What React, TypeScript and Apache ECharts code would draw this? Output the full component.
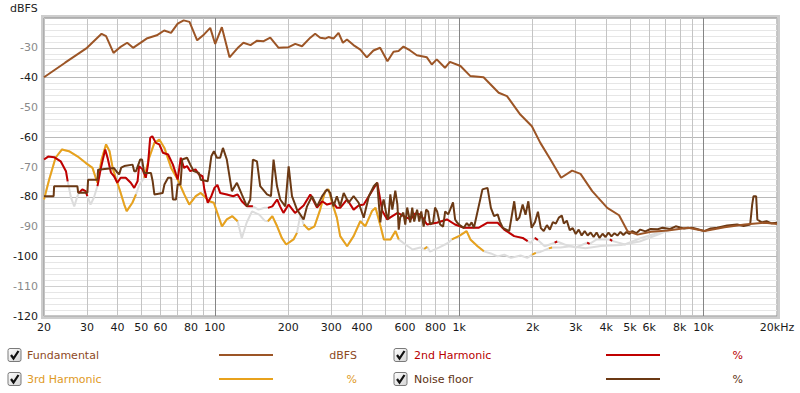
import React, { useEffect, useRef } from "react";
import * as echarts from "echarts";

// ---- axes ----
const xGridValues = [20, 30, 40, 50, 60, 70, 80, 90, 100, 200, 300, 400, 500, 600, 700, 800, 900, 1000, 2000, 3000, 4000, 5000, 6000, 7000, 8000, 9000, 10000, 20000];
const xLabelValues = [20, 30, 40, 50, 60, 80, 100, 200, 300, 400, 600, 800, 1000, 2000, 3000, 4000, 5000, 6000, 8000, 10000, 20000];
const yMin = -120;
const yMax = -20;

// ---- series: [Hz, dBFS] ----
const fundamental = [
  [20, -39.9], [24.4, -35], [30, -30.0], [34.4, -25.3], [35.9, -26.1], [38.5, -31.7], [41, -29.8], [43.8, -28.3], [46.3, -30],
  [52.6, -26.9], [57.9, -25.8], [62.1, -24.2], [66.2, -25], [70.5, -21.9], [74.6, -20.8], [78.8, -21.3], [84.7, -27.5],
  [90.4, -25.5], [95.8, -23.3], [100.4, -28.7], [106.9, -23.1], [114.9, -33.2], [125, -29.8], [131, -28.3], [140, -29.1],
  [149, -27.6], [158.5, -27.8], [168.7, -26.6], [182.5, -30], [200.5, -29.8], [213.5, -28.7], [227.5, -29.5], [246, -26.6],
  [257.5, -25.3], [270, -26.6], [283, -26.9], [292, -26.4], [306, -26.9], [321, -25], [334.5, -28.3], [347.5, -27.2],
  [369.5, -29.1], [394, -30.6], [419, -33.2], [446, -30.9], [475, -30], [509, -34.5], [539, -31.3], [565, -31.1], [592, -29.6],
  [630, -30.9], [671, -32.5], [738, -33.2], [773, -35.6], [810, -33.9], [875, -36.7], [917, -34.7], [1013, -36.1],
  [1112, -39.5], [1259, -39.9], [1452, -45.1], [1570, -46.2], [1780, -52.4], [1985, -56.3], [2150, -61.9], [2365, -67.5],
  [2615, -73.6], [2900, -71.2], [3140, -72.3], [3505, -78.1], [4040, -83.7], [4515, -86.2], [4885, -91.5], [5370, -92.7],
  [6100, -91.7], [7150, -91.3], [8650, -90.4], [10100, -91.5], [12200, -90.2], [14750, -89.3], [17800, -88.7], [20000, -89.1],
];

const noiseFloor = [
  [20, -79.8], [21.9, -79.8], [22, -76.5], [27.4, -76.5], [27.6, -78.6], [30.1, -78.6], [30.3, -74.3], [33.1, -74.3],
  [33.3, -70.9], [38.6, -70.3], [39.6, -71.5], [40.6, -72.5], [41.4, -70.2], [42.6, -69.7], [46.1, -69.2], [46.8, -71.4],
  [47.6, -71.4], [49.5, -67.5], [50.4, -67.5], [51.4, -72], [54.8, -72], [55.7, -74.8], [56.6, -79.2], [61.2, -78.7],
  [62.2, -75.9], [64.4, -73.6], [66.3, -73.6], [67.4, -80.9], [69.4, -80.9], [70.5, -75.9], [72.4, -75.9], [73.6, -67.5],
  [77, -66.9], [79.4, -69.2], [82, -71.4], [86.1, -72], [87.6, -74.3], [93.5, -74.8], [95.2, -70.8], [96.8, -66.4],
  [99.2, -64.7], [102, -66.9], [105.2, -66.9], [108, -63.6], [112, -67.5], [117.5, -78.1], [123.2, -75.3], [129, -79.2],
  [135.4, -83.2], [139.7, -80.9], [143.2, -67.5], [148.8, -68.1], [153.4, -76.4], [163.6, -79.2], [169.8, -79.8],
  [174, -67.5], [179.7, -76.4], [185.3, -80.9], [194.3, -83.2], [200.6, -69.8], [207, -79.8], [217, -84.3], [231, -87.6],
  [238.5, -83.2], [250, -79.8], [262, -83.2], [275, -79.8], [288, -77.5], [297, -78.7], [306, -83.2], [316, -79.8],
  [326, -83.2], [337, -78.7], [353, -82], [370, -79.8], [388, -82], [407, -87], [427, -79.8], [448, -76.4], [462, -75.3],
  [476, -88.6], [485, -82.6], [491, -80.9], [504, -85.9], [513, -87.6], [523, -79.2], [533, -84.3], [548, -77.9], [559, -82.6],
  [566, -91.0], [574, -86.9], [591, -85.3], [602, -89.3], [613, -83.6], [631, -88.6], [643, -83.6], [655, -88.3], [673, -84.3],
  [687, -88.3], [700, -84.9], [716, -90.0], [733, -84.3], [747, -84.9], [761, -89.3], [783, -88.6], [797, -83.6], [813, -84.9],
  [836, -89.3], [860, -90.0], [877, -84.9], [902, -85.9], [919, -84.3], [944, -81.9], [963, -87.6], [981, -88.6], [1009, -89.6],
  [1046, -90.4], [1075, -88.8], [1100, -89.8], [1125, -88.6], [1150, -90.4], [1246, -77.5], [1307, -77], [1349, -83.7],
  [1390, -86.5], [1438, -85.9], [1470, -88.4], [1509, -90.4], [1603, -91.5], [1681, -81.5], [1720, -88], [1763, -87],
  [1820, -82.6], [1870, -86], [1920, -81.5], [1980, -90.4], [2044, -88.5], [2102, -85], [2160, -90.5], [2220, -91.5],
  [2287, -89.5], [2352, -91], [2419, -88.5], [2488, -89], [2559, -87], [2632, -86.3], [2683, -89], [2759, -88], [2837, -91.2],
  [2918, -90.5], [3001, -92.5], [3087, -91], [3174, -93], [3265, -91.5], [3358, -93], [3453, -92], [3552, -93.5], [3653, -92],
  [3757, -93.8], [3864, -92.4], [3974, -93.5], [4087, -92], [4203, -93.3], [4323, -92.2], [4446, -93], [4573, -91.8],
  [4703, -92.8], [4837, -91.8], [4975, -92.5], [5116, -91.5], [5312, -92.2], [5515, -91], [5787, -91.6], [6072, -90.8],
  [6500, -90.9], [6800, -90.4], [7300, -90.8], [7700, -89.9], [8300, -90.6], [9000, -90.4], [10070, -91.5], [10700, -90.6],
  [11380, -90.4], [12500, -89.6], [13730, -89.3], [14600, -89.8], [15530, -89.3], [15830, -82.6], [16030, -79.8],
  [16430, -79.8], [16620, -87.6], [17300, -88.6], [18120, -88.2], [19000, -88.9], [20000, -88.7],
];

// [Hz, dBFS, shown in colour (1) or below the noise floor (0)]
const harmonic2 = [
  [20, -67.5, 1], [20.8, -66.5, 1], [22, -66.7, 1], [23.4, -68.1, 1], [24.6, -71.4, 1], [25, -74.8, 1], [25.8, -80.3, 0],
  [26.6, -83.2, 0], [27.4, -79.8, 0], [27.8, -78.7, 1], [28.7, -77.5, 1], [29.6, -78.1, 1], [30.1, -79.8, 1], [31, -82.6, 0],
  [32, -80.3, 0], [33.1, -76.4, 1], [34.2, -70.3, 1], [35.6, -64.1, 1], [36.4, -66.9, 1], [37.6, -71.9, 1], [38.7, -73.1, 1],
  [39.9, -75.3, 1], [41.2, -73.6, 1], [43.2, -73.6, 1], [45.3, -75.3, 1], [46.8, -77, 1], [48.3, -74.8, 1], [49, -69.7, 1],
  [50.6, -70.8, 1], [52.2, -73.6, 1], [53.3, -69.2, 1], [54.4, -60.2, 1], [55.5, -59.7, 1], [57.4, -61.9, 1], [59.3, -62.4, 1],
  [61.3, -65.2, 1], [64.4, -65.8, 1], [67.4, -69.2, 1], [70.5, -74.2, 1], [72.6, -66.9, 1], [74.8, -70.3, 1], [77, -69.7, 1],
  [79.4, -71.4, 1], [83.4, -70.8, 1], [86.1, -72.5, 1], [89.1, -73.1, 1], [90.6, -77.5, 1], [93.6, -82, 1], [96.8, -79.8, 1],
  [99.7, -77, 1], [102.5, -76, 1], [105.2, -78.7, 1], [112, -79.2, 1], [119, -79.8, 1], [124, -79.2, 1], [129, -81.5, 1],
  [135.4, -83.2, 1], [143.2, -83.2, 1], [151, -84.3, 0], [160, -83.7, 0], [165, -83.7, 1], [172, -83.2, 1], [180, -80.9, 1],
  [185, -83.2, 1], [191, -85.4, 1], [200.6, -82.6, 1], [213, -85.4, 1], [231, -82.9, 1], [246, -79.2, 1], [262, -83.6, 1],
  [275, -81.5, 1], [288, -82.6, 1], [306, -82, 1], [316, -83.7, 1], [326, -83.7, 1], [348, -80.9, 1], [370, -84.3, 1],
  [388, -82.9, 1], [407, -82.6, 1], [427, -79.8, 1], [448, -77, 1], [462, -75.3, 1], [485, -84.8, 1], [508, -87.6, 1],
  [533, -86.5, 1], [560, -85.4, 1], [594, -86.5, 1], [632, -87.6, 1], [662, -85.6, 1], [694, -85.9, 1], [739, -89.3, 1],
  [810, -88.7, 1], [892, -87.6, 1], [962, -89.3, 1], [1046, -90.4, 1], [1112, -90.4, 1], [1200, -90.4, 1], [1307, -88.7, 1],
  [1438, -88.7, 1], [1530, -91, 1], [1680, -93.2, 1], [1820, -93.8, 1], [1908, -94.9, 1], [1960, -95.5, 0], [2040, -93.8, 1],
  [2100, -94.5, 1], [2240, -96.6, 0], [2460, -95.4, 1], [2520, -95, 1], [2700, -96, 0], [3010, -97, 0], [3340, -95.4, 1],
  [3420, -95.8, 1], [3660, -94.3, 0], [4140, -94.3, 1], [4230, -94.8, 1], [4770, -96, 0], [5480, -94, 0], [6300, -92.5, 0],
  [7000, -91, 0],
];

const harmonic3 = [
  [20, -80.9, 1], [21, -74.2, 1], [22.3, -66.9, 1], [23.7, -64.1, 1], [25.3, -64.7, 1], [27.4, -66.4, 1], [29.6, -68.6, 1],
  [31.6, -70.3, 1], [32.4, -73.1, 1], [33.1, -75.3, 1], [34.4, -67.5, 1], [35.9, -62.4, 1], [37.1, -64.7, 1], [38.2, -70.3, 1],
  [39.3, -73.6, 1], [41.2, -78.7, 1], [42.6, -82.6, 1], [43.6, -84.8, 1], [46, -82, 1], [47.6, -79.2, 1], [49, -76.2, 0],
  [51.4, -73.6, 1], [53.9, -66.9, 1], [56.6, -61.9, 1], [59.3, -60.8, 1], [62.2, -63.6, 1], [66.3, -70.3, 1], [70.5, -74.2, 1],
  [75, -79.2, 1], [78.6, -82.6, 1], [83.6, -79.8, 1], [87.6, -78.7, 1], [90.5, -79.8, 1], [95, -81.5, 1], [99.1, -82, 1],
  [107, -89.9, 1], [112, -87.6, 1], [118, -86.5, 1], [124, -88.2, 1], [129, -93.9, 0], [135, -88.7, 0], [142, -84.9, 0],
  [152, -86, 0], [160, -88, 0], [165, -88.2, 1], [172, -86.5, 1], [180, -89.9, 1], [188, -93.8, 1], [196, -96, 1], [210, -94.3, 1],
  [217, -92.1, 1], [224, -86, 0], [231, -89.3, 1], [242, -91, 1], [256, -89.9, 1], [270, -84.3, 1], [283, -78.1, 1],
  [292, -77.5, 1], [302, -82, 1], [316, -87, 1], [326, -93.2, 1], [348, -96.6, 1], [370, -93.2, 1], [394, -88.2, 1],
  [413, -89.9, 1], [440, -84.8, 1], [455, -83.7, 1], [477, -89.9, 1], [492, -94.3, 1], [524, -94.3, 1], [549, -91.5, 1],
  [566, -94.3, 1], [603, -96, 0], [645, -97.7, 0], [694, -97, 0], [720, -97.5, 1], [740, -96.8, 1], [760, -98.4, 0],
  [830, -97, 0], [900, -95.5, 0], [934, -94.3, 1], [998, -93.2, 1], [1073, -91.5, 1], [1112, -94.3, 1], [1190, -96.6, 1],
  [1263, -98.3, 1], [1349, -99, 0], [1438, -100, 0], [1530, -99.4, 0], [1630, -100.5, 0], [1785, -99.7, 0], [1900, -100.5, 0],
  [1990, -99.4, 1], [2060, -98.8, 1], [2150, -98.5, 0], [2330, -97.3, 1], [2400, -97, 1], [2600, -97, 0], [2860, -96.6, 0],
  [3290, -97.3, 0], [3800, -96.5, 0], [4600, -96.2, 0], [5480, -95, 0], [6600, -92.5, 0], [7500, -90.6, 0],
];

// ---- legend ----
const legendNames = ["Fundamental", "2nd Harmonic", "3rd Harmonic", "Noise floor"];
const legendUnits = ["dBFS", "%", "%", "%"];

const FONT = "DejaVu Sans";
const C_FUND = "#9c5526";
const C_H2 = "#c00000";
const C_H3 = "#e8a21c";
const C_NOISE = "#6b3914";
const C_GREY = "#dcdcdc";
const lineColors = [C_FUND, C_H2, C_H3, C_NOISE];
const textColors = ["#8e4a1e", "#b80000", "#e09a25", "#5e3212"];

function fmtHz(v: number): string {
  if (v >= 20000) return "20kHz";
  if (v >= 1000) return v / 1000 + "k";
  return String(v);
}

function colored(arr: number[][]) {
  return arr.map((p) => (p[2] ? [p[0], p[1]] : [p[0], "-"]));
}
function full(arr: number[][]) {
  return arr.map((p) => [p[0], p[1]]);
}

function checkbox(x: number, y: number) {
  return {
    type: "group",
    x,
    y,
    children: [
      {
        type: "rect",
        shape: { x: 0, y: 0, width: 13, height: 13, r: 2 },
        style: {
          fill: new echarts.graphic.LinearGradient(0, 0, 1, 1, [
            { offset: 0, color: "#ffffff" },
            { offset: 1, color: "#d4d4d4" },
          ]),
          stroke: "#7a7a7a",
          lineWidth: 1,
        },
      },
      {
        type: "polyline",
        shape: { points: [[3, 6.5], [5.5, 10], [10.5, 2.5]] },
        style: { stroke: "#111", lineWidth: 2.2, fill: null },
      },
    ],
  };
}

function buildLegend() {
  const cols = [
    { box: 8, text: 27, l0: 219, l1: 273, unit: 357 },
    { box: 394, text: 414, l0: 606, l1: 660, unit: 743 },
  ];
  const rows = [355, 379];
  const order = [
    [0, 0],
    [1, 0],
    [0, 1],
    [1, 1],
  ]; // [col,row] for each legend entry
  const els: any[] = [
    {
      type: "rect",
      z: -10,
      shape: { x: 42.5, y: 16.5, width: 736, height: 301 },
      style: { fill: null, stroke: "#cdcdcd", lineWidth: 3 },
    },
  ];
  legendNames.forEach((name, i) => {
    const c = cols[order[i][0]];
    const y = rows[order[i][1]];
    els.push(checkbox(c.box, y - 6.5));
    els.push({
      type: "text",
      x: c.text,
      y,
      style: { text: name, fill: textColors[i], font: `11px "${FONT}"`, textVerticalAlign: "middle", textAlign: "left" },
    });
    els.push({
      type: "line",
      shape: { x1: c.l0, y1: y, x2: c.l1, y2: y },
      style: { stroke: lineColors[i], lineWidth: 2 },
    });
    els.push({
      type: "text",
      x: c.unit,
      y,
      style: { text: legendUnits[i], fill: textColors[i], font: `11px "${FONT}"`, textVerticalAlign: "middle", textAlign: "right" },
    });
  });
  els.push({
    type: "text",
    x: 10,
    y: 8,
    style: { text: "dBFS", fill: "#222", font: `11px "${FONT}"`, textVerticalAlign: "middle", textAlign: "left" },
  });
  return els;
}

const xGridColors = xGridValues.map((v) => (v === 100 || v === 1000 || v === 10000 ? "#858585" : "#c4c4c4"));

function lineSeries(name: string, data: any[], color: string, z: number) {
  return {
    name,
    type: "line",
    data,
    showSymbol: false,
    symbol: "none",
    connectNulls: false,
    silent: true,
    z,
    lineStyle: { color, width: 2 },
    itemStyle: { color },
  };
}

export default function App() {
  const ref = useRef<HTMLDivElement>(null);
  useEffect(() => {
    if (!ref.current) return;
    const chart = echarts.init(ref.current, null, { renderer: "svg" });
    chart.setOption({
      animation: false,
      backgroundColor: "#ffffff",
      textStyle: { fontFamily: FONT },
      grid: {
        left: 44,
        right: 23,
        top: 18,
        bottom: 77,
        show: true,
        backgroundColor: "#ffffff",
        borderColor: "#8f8f8f",
        borderWidth: 1,
      },
      xAxis: {
        type: "log",
        logBase: 10,
        min: 20,
        max: 20000,
        axisLine: { show: false },
        axisTick: { show: false, customValues: xGridValues },
        axisLabel: {
          customValues: xLabelValues,
          formatter: (v: number) => fmtHz(Number(v)),
          color: "#1a1a1a",
          fontSize: 11,
          fontFamily: FONT,
          margin: 6,
        },
        splitLine: { show: true, lineStyle: { color: xGridColors, width: 1 } },
      },
      yAxis: {
        type: "value",
        min: yMin,
        max: yMax,
        interval: 10,
        axisLine: { show: false },
        axisTick: { show: false },
        axisLabel: {
          formatter: (v: number) => (Number(v) === yMax ? "" : String(v)),
          color: (v: any) => (Number(v) % 20 === 0 ? "#1a1a1a" : "#8a8a8a"),
          fontSize: 11,
          fontFamily: FONT,
          margin: 6,
        },
        splitLine: { show: true, lineStyle: { color: ["#b9b9b9", "#cfcfcf"], width: 1 } },
        minorTick: { show: false, splitNumber: 5 },
        minorSplitLine: { show: true, lineStyle: { color: "#e6e6e6", width: 1 } },
      },
      series: [
        lineSeries("3rd Harmonic (below noise)", full(harmonic3), C_GREY, 1),
        lineSeries("2nd Harmonic (below noise)", full(harmonic2), C_GREY, 1),
        lineSeries("3rd Harmonic", colored(harmonic3), C_H3, 2),
        lineSeries("2nd Harmonic", colored(harmonic2), C_H2, 3),
        lineSeries("Noise floor", noiseFloor, C_NOISE, 4),
        lineSeries("Fundamental", fundamental, C_FUND, 5),
      ],
      graphic: buildLegend(),
    });
    return () => chart.dispose();
  }, []);
  return <div ref={ref} style={{ position: "fixed", left: 0, top: 0, width: 800, height: 393 }} />;
}
